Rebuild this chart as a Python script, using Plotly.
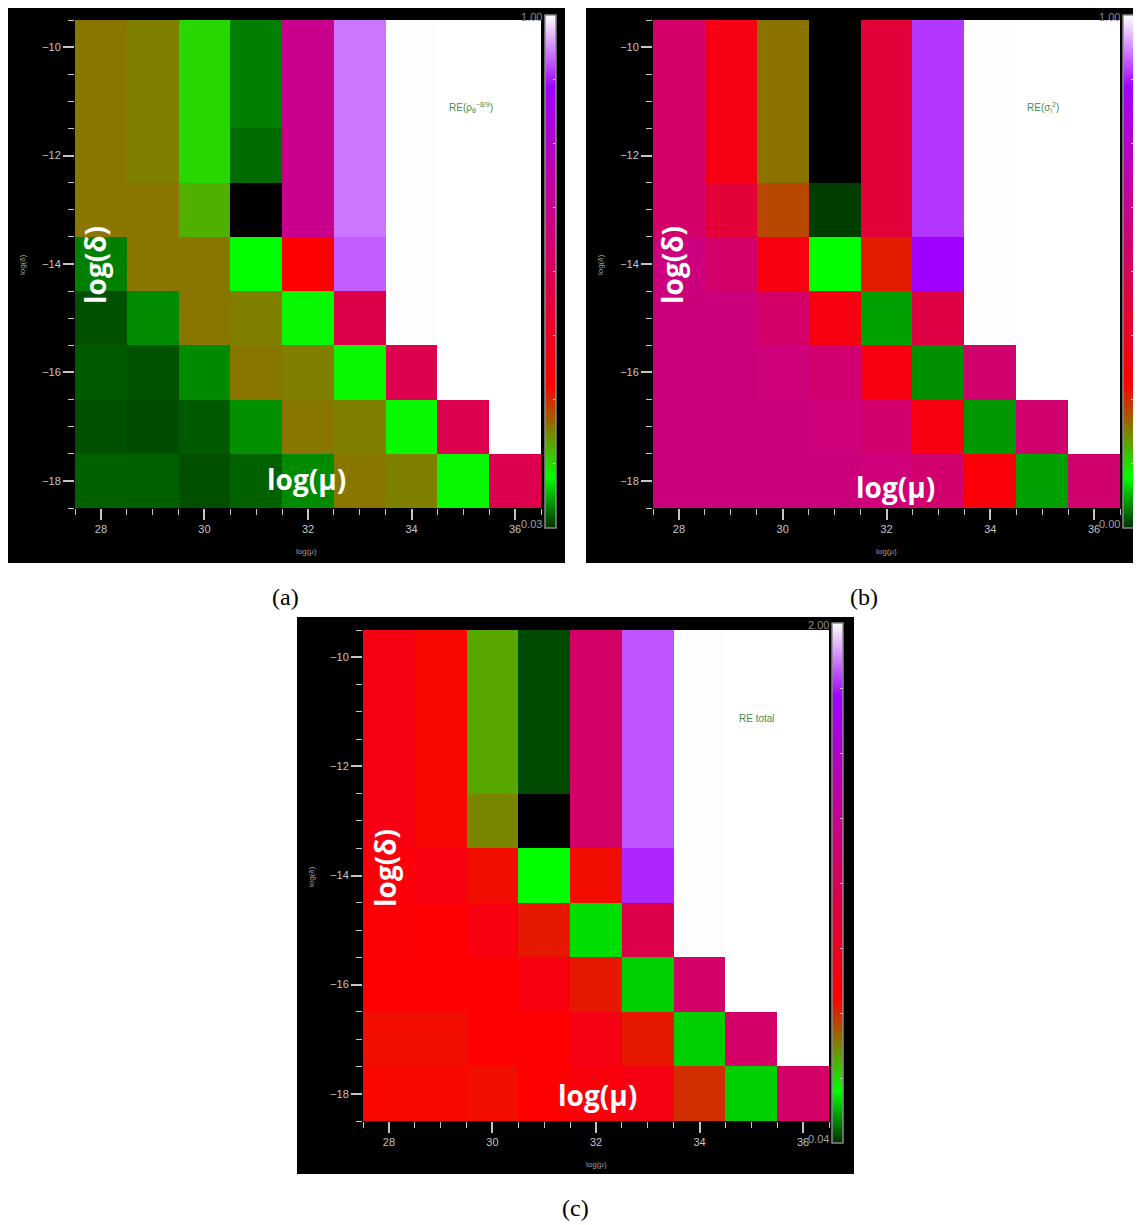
import plotly.graph_objects as go

# ---------------- data ----------------
mu = [28, 29, 30, 31, 32, 33, 34, 35, 36]
delta = [-10, -11, -12, -13, -14, -15, -16, -17, -18]

# panel (a): RE(rho^-8/9), range 0.03 .. 1.00  (rows = delta, cols = mu)
z_a = [
    [0.221, 0.214, 0.154, 0.067, 0.631, 0.927, 0.999, 1.000, 1.000],
    [0.221, 0.214, 0.154, 0.067, 0.631, 0.927, 0.999, 1.000, 1.000],
    [0.221, 0.214, 0.154, 0.058, 0.631, 0.927, 0.999, 1.000, 1.000],
    [0.221, 0.221, 0.181, None,  0.631, 0.927, 0.999, 1.000, 1.000],
    [0.067, 0.221, 0.221, 0.127, 0.302, 0.913, 0.999, 1.000, 1.000],
    [0.045, 0.073, 0.221, 0.214, 0.132, 0.486, 0.999, 1.000, 1.000],
    [0.050, 0.047, 0.072, 0.221, 0.214, 0.132, 0.496, 1.000, 1.000],
    [0.045, 0.043, 0.050, 0.075, 0.221, 0.214, 0.132, 0.496, 1.000],
    [0.053, 0.052, 0.045, 0.053, 0.072, 0.221, 0.214, 0.132, 0.496],
]
# panel (b): RE(sigma_i^2), range 0.00 .. 1.00
z_b = [
    [0.545, 0.330, 0.199, None,  0.430, 0.890, 0.999, 1.000, 1.000],
    [0.545, 0.330, 0.199, None,  0.430, 0.890, 0.999, 1.000, 1.000],
    [0.545, 0.330, 0.199, None,  0.430, 0.890, 0.999, 1.000, 1.000],
    [0.545, 0.430, 0.230, 0.007, 0.430, 0.890, 0.999, 1.000, 1.000],
    [0.590, 0.545, 0.320, 0.100, 0.260, 0.860, 0.999, 1.000, 1.000],
    [0.585, 0.585, 0.540, 0.320, 0.054, 0.460, 0.999, 1.000, 1.000],
    [0.585, 0.585, 0.580, 0.560, 0.320, 0.046, 0.555, 1.000, 1.000],
    [0.585, 0.585, 0.585, 0.580, 0.550, 0.320, 0.050, 0.555, 1.000],
    [0.585, 0.585, 0.585, 0.585, 0.580, 0.550, 0.300, 0.054, 0.555],
]
# panel (c): RE total, range 0.04 .. 2.00
z_c = [
    [0.687, 0.579, 0.358, 0.066, 1.098, 1.816, 1.998, 2.000, 2.000],
    [0.687, 0.579, 0.358, 0.066, 1.098, 1.816, 1.998, 2.000, 2.000],
    [0.687, 0.579, 0.358, 0.066, 1.098, 1.816, 1.998, 2.000, 2.000],
    [0.687, 0.579, 0.405, None,  1.098, 1.816, 1.998, 2.000, 2.000],
    [0.628, 0.667, 0.569, 0.236, 0.569, 1.765, 1.998, 2.000, 2.000],
    [0.620, 0.600, 0.667, 0.554, 0.204, 0.961, 1.998, 2.000, 2.000],
    [0.600, 0.600, 0.600, 0.667, 0.554, 0.191, 1.098, 2.000, 2.000],
    [0.569, 0.569, 0.589, 0.589, 0.687, 0.554, 0.191, 1.098, 2.000],
    [0.579, 0.579, 0.569, 0.589, 0.640, 0.687, 0.524, 0.191, 1.098],
]
ranges = {"a": (0.03, 1.00), "b": (0.00, 1.00), "c": (0.04, 2.00)}
range_labels = {"a": ("0.03", "1.00"), "b": ("0.00", "1.00"), "c": ("0.04", "2.00")}
panel_labels = {"a": "RE(ρ<sub>θ</sub><sup>−8/9</sup>)", "b": "RE(σ<sub>i</sub><sup>2</sup>)", "c": "RE total"}
captions = {"a": "(a)", "b": "(b)", "c": "(c)"}

# ---------------- style ----------------
PAGE_W, PAGE_H = 1141, 1225
OFF = 8  # default page margin of the html body
W, H = PAGE_W - OFF, PAGE_H - OFF
colorscale = [
    [0.00, "#003000"],
    [0.10, "#00ff00"],
    [0.28, "#ff0000"],
    [0.45, "#e00040"],
    [0.62, "#c8008c"],
    [0.86, "#a000ff"],
    [1.00, "#ffffff"],
]

def fx(x):
    return (x - OFF) / W

def fy(y):
    return 1 - (y - OFF) / H

geom = {
    "a": dict(rect=(8, 6, 565, 563), plot=(75, 541, 20, 508), cb=(545, 15, 528), cap=(285, 597),
              dlab=(95, 265), mlab=(307, 479), rel=(471, 108), xt=(307, 551), yt=(22, 265)),
    "b": dict(rect=(586, 6, 1141, 563), plot=(653, 1120, 20, 508), cb=(1123, 15, 528), cap=(864, 597),
              dlab=(672, 265), mlab=(895, 487), rel=(1043, 108), xt=(886, 551), yt=(600, 265)),
    "c": dict(rect=(297, 617, 854, 1174), plot=(363, 829, 630, 1121), cb=(832, 623, 1143), cap=(575, 1208),
              dlab=(385, 868), mlab=(597, 1095), rel=(757, 718), xt=(596, 1164), yt=(311, 877)),
}
zs = {"a": z_a, "b": z_b, "c": z_c}

fig = go.Figure()
shapes = []
annotations = []
tick_col = "#c4c4c4"
axis_font = dict(family="Liberation Sans, Arial", size=11, color="#c4c4c4")


def ann(x, y, text, font, angle=0, xanchor="center", yanchor="middle"):
    annotations.append(dict(x=fx(x), y=fy(y), xref="paper", yref="paper", text=text,
                            textangle=angle, showarrow=False, xanchor=xanchor, yanchor=yanchor,
                            font=font))


for i, key in enumerate(["a", "b", "c"]):
    g = geom[key]
    zmin, zmax = ranges[key]
    sfx = "" if i == 0 else str(i + 1)
    x0, x1, y0, y1 = g["plot"]
    cbx, cby0, cby1 = g["cb"]
    nt = 9
    tv = [zmin + (zmax - zmin) * k / (nt - 1) for k in range(nt)]
    fig.add_trace(go.Heatmap(
        x=mu, y=delta, z=zs[key], zmin=zmin, zmax=zmax, colorscale=colorscale,
        xaxis="x" + sfx, yaxis="y" + sfx, hoverinfo="skip",
        colorbar=dict(
            thickness=11, thicknessmode="pixels", len=cby1 - cby0, lenmode="pixels",
            x=fx(cbx), xanchor="left", xpad=0, y=fy((cby0 + cby1) / 2), yanchor="middle", ypad=0,
            outlinecolor="#8a8a8a", outlinewidth=1.5, borderwidth=0,
            showticklabels=False, ticks="inside", ticklen=3, tickcolor="#d8d8d8", tickvals=tv,
        ),
    ))
    common = dict(showgrid=False, zeroline=False, showline=False, ticks="outside",
                  tickcolor=tick_col, tickwidth=1.5, ticklen=11, tickfont=axis_font, dtick=2,
                  minor=dict(dtick=0.5, ticks="outside", ticklen=6, tickcolor=tick_col, tickwidth=1.2, showgrid=False))
    fig.update_layout(**{
        "xaxis" + sfx: dict(domain=[fx(x0), fx(x1)], range=[27.5, 36.5], tick0=28,
                            anchor="y" + sfx, **common),
        "yaxis" + sfx: dict(domain=[fy(y1), fy(y0)], range=[-18.5, -9.5], tick0=-10,
                            anchor="x" + sfx, **common),
    })
    rx0, ry0, rx1, ry1 = g["rect"]
    shapes.append(dict(type="rect", xref="paper", yref="paper", x0=fx(rx0), x1=fx(rx1),
                       y0=fy(ry1), y1=fy(ry0), fillcolor="black", line=dict(width=0), layer="below"))
    big = dict(family="Open Sans, DejaVu Sans", size=28, color="white")
    ann(g["dlab"][0], g["dlab"][1], "<b>log(δ)</b>", big, angle=-90)
    ann(g["mlab"][0], g["mlab"][1], "<b>log(μ)</b>", big)
    ann(g["rel"][0], g["rel"][1], panel_labels[key],
        dict(family="Liberation Sans, Arial", size=10, color="#4a8a4a"))
    small = dict(family="Liberation Sans, Arial", size=8, color="#a0a0a0")
    ann(g["xt"][0], g["xt"][1], "log(μ)", small)
    ann(g["yt"][0], g["yt"][1], "log(δ)", small, angle=-90)
    lo, hi = range_labels[key]
    ann(cbx - 1, cby0 + 2, hi, dict(family="Liberation Sans, Arial", size=11, color="#8a8a8a"), xanchor="right")
    ann(cbx - 1, cby1 - 4, lo, dict(family="Liberation Sans, Arial", size=11, color="#a0a0a0"), xanchor="right")
    ann(g["cap"][0], g["cap"][1], captions[key],
        dict(family="Liberation Serif, DejaVu Serif", size=24, color="black"))

fig.update_layout(
    width=W, height=H, margin=dict(l=0, r=0, t=0, b=0),
    paper_bgcolor="white", plot_bgcolor="black", showlegend=False,
    shapes=shapes, annotations=annotations,
)
fig.write_html("out.html")
